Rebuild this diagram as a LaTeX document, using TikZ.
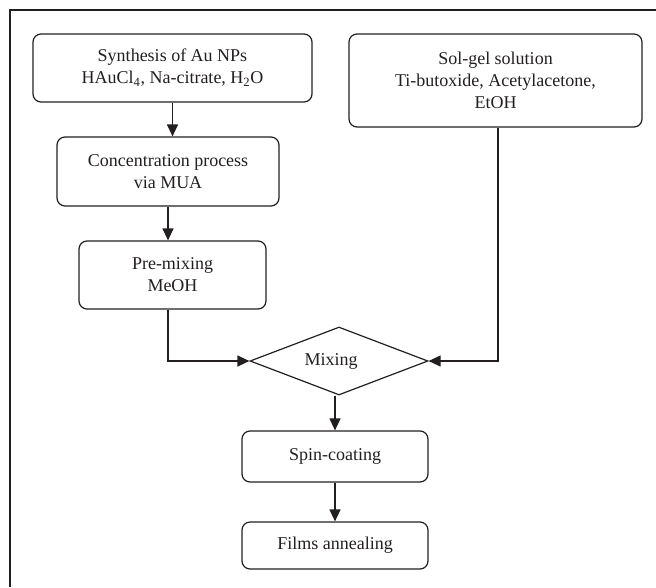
\documentclass[tikz,border=0pt]{standalone}
\usepackage{fontspec}
\setmainfont{Liberation Serif}
\usepackage{tikz}
\usetikzlibrary{
    arrows.meta,
    shapes,
    calc,
    positioning
}
\definecolor{ink}{HTML}{231F20}
\tikzset{
    stepbox/.style={draw=ink, line width=1.2pt, rounded corners=8pt,
        align=center, inner sep=2pt, text=ink},
    decision/.style={draw=ink, line width=1.2pt, diamond, inner sep=0pt,
        text=ink, minimum width=178pt, minimum height=68pt},
    flow/.style={draw=ink, line width=1.2pt, -{Triangle[length=12pt,width=11pt]}}
}

\begin{document}
\begin{tikzpicture}[x=1pt, y=-1pt, font=\fontsize{18}{22}\selectfont]
    \useasboundingbox (0, 0) rectangle (656, 587);
    % frame
    \draw[ink, line width=1.2pt] (10, 587) -- (10, 10) -- (656, 10);

    \node[stepbox, minimum width=279pt, minimum height=68pt] (synth) at (172.5, 68)
        {Synthesis of Au NPs\\HAuCl\textsubscript{4}, Na-citrate, H\textsubscript{2}O};
    \node[stepbox, minimum width=222pt, minimum height=69pt] (conc) at (168, 171.5)
        {Concentration process\\via MUA};
    \node[stepbox, minimum width=187pt, minimum height=68pt] (premix) at (172.5, 275)
        {Pre-mixing\\MeOH};
    \node[stepbox, minimum width=293pt, minimum height=93pt] (solgel) at (495.5, 80.5)
        {Sol-gel solution\\Ti-butoxide, Acetylacetone,\\EtOH};
    \node[decision] (mix) at (339, 361) {\hspace*{-16pt}Mixing};
    \node[stepbox, minimum width=186pt, minimum height=51pt] (spin) at (335, 456.5)
        {Spin-coating};
    \node[stepbox, minimum width=186pt, minimum height=47pt] (films) at (335, 545.5)
        {Films annealing};

    \draw[flow] (synth.south) -- (synth.south |- conc.north);
    \draw[flow] (conc.south) -- (conc.south |- premix.north);
    \draw[flow] (conc.south |- premix.south) |- (mix.west);
    \draw[flow] ([xshift=2.5pt]solgel.south) |- (mix.east);
    \draw[flow] (spin.north |- mix.south) -- (spin.north);
    \draw[flow] (spin.south) -- (films.north);
\end{tikzpicture}
\end{document}
